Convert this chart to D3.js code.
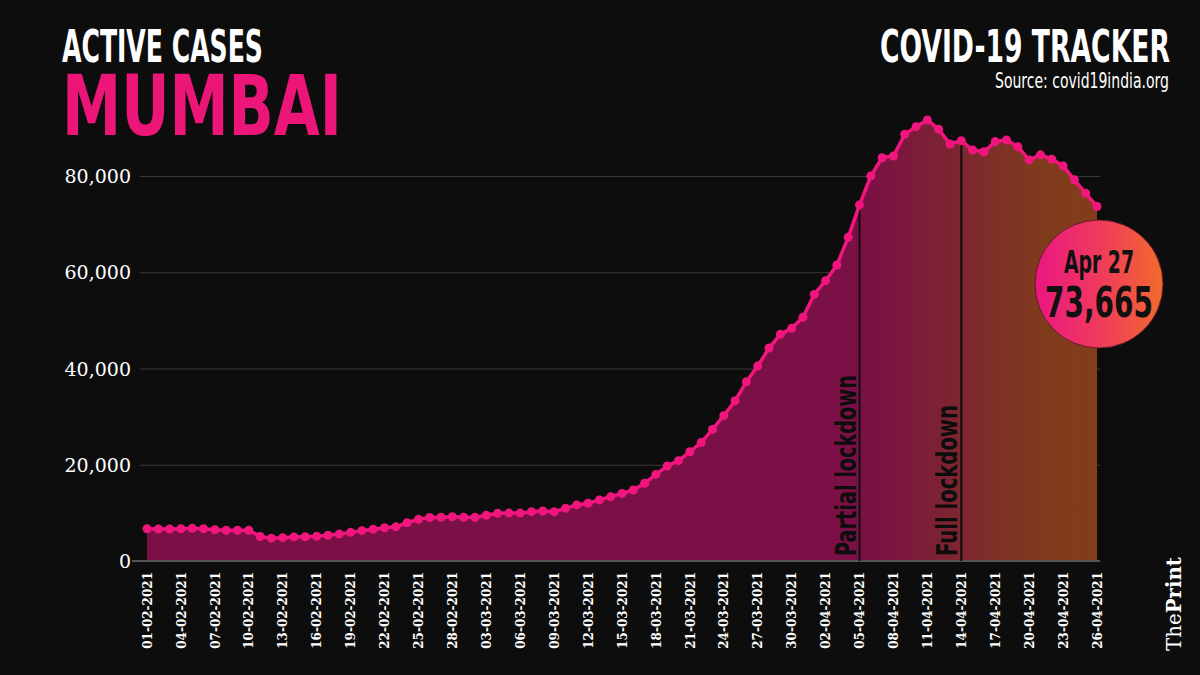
<!DOCTYPE html>
<html lang="en">
    <head>
        <meta charset="utf-8">
        <title>Active Cases Mumbai</title>
        <script src="https://cdnjs.cloudflare.com/ajax/libs/d3/7.8.5/d3.min.js" charset="utf-8"></script>
        <style>
        body {
          margin: 0;
          background: #0d0d0d;
        }
        svg {
          display: block;
        }
        .title {
          font-family: "Liberation Sans Narrow", "DejaVu Sans Condensed", "Roboto", sans-serif;
          font-weight: bold;
        }
        .y-axis text {
          font-family: "DejaVu Serif", serif;
          font-size: 19px;
          fill: #fff;
        }
        .x-axis text {
          font-family: "DejaVu Serif", serif;
          font-size: 12px;
          font-weight: bold;
          fill: #fff;
        }
        </style>
    </head>
    <body>
        <svg></svg>

        <script type="text/javascript">
          // active cases per day, 01-02-2021 .. 26-04-2021
          var dates = [
            "01-02-2021","02-02-2021","03-02-2021","04-02-2021","05-02-2021","06-02-2021","07-02-2021",
            "08-02-2021","09-02-2021","10-02-2021","11-02-2021","12-02-2021","13-02-2021","14-02-2021",
            "15-02-2021","16-02-2021","17-02-2021","18-02-2021","19-02-2021","20-02-2021","21-02-2021",
            "22-02-2021","23-02-2021","24-02-2021","25-02-2021","26-02-2021","27-02-2021","28-02-2021",
            "01-03-2021","02-03-2021","03-03-2021","04-03-2021","05-03-2021","06-03-2021","07-03-2021",
            "08-03-2021","09-03-2021","10-03-2021","11-03-2021","12-03-2021","13-03-2021","14-03-2021",
            "15-03-2021","16-03-2021","17-03-2021","18-03-2021","19-03-2021","20-03-2021","21-03-2021",
            "22-03-2021","23-03-2021","24-03-2021","25-03-2021","26-03-2021","27-03-2021","28-03-2021",
            "29-03-2021","30-03-2021","31-03-2021","01-04-2021","02-04-2021","03-04-2021","04-04-2021",
            "05-04-2021","06-04-2021","07-04-2021","08-04-2021","09-04-2021","10-04-2021","11-04-2021",
            "12-04-2021","13-04-2021","14-04-2021","15-04-2021","16-04-2021","17-04-2021","18-04-2021",
            "19-04-2021","20-04-2021","21-04-2021","22-04-2021","23-04-2021","24-04-2021","25-04-2021",
            "26-04-2021"
          ];

          var activeCases = [
            6700, 6650, 6650, 6700, 6800, 6700, 6500, 6400, 6400, 6400,
            5100, 4750, 4850, 5000, 5050, 5150, 5350, 5600, 5950, 6300,
            6600, 6900, 7100, 7950, 8650, 9050, 9100, 9200, 9100, 9100,
            9500, 9900, 9950, 9950, 10250, 10400, 10250, 10950, 11650, 12000,
            12700, 13350, 14050, 14750, 16150, 18000, 19750, 20850, 22700, 24600,
            27350, 30200, 33300, 37250, 40500, 44250, 47100, 48350, 50650, 55400,
            58250, 61500, 67250, 74000, 80000, 83800, 84150, 88650, 90250, 91650,
            89700, 86650, 87350, 85400, 85050, 87150, 87500, 86100, 83350, 84400,
            83500, 82100, 79200, 76400, 73665
          ];

          var xTickLabels = [
            "01-02-2021","04-02-2021","07-02-2021","10-02-2021","13-02-2021","16-02-2021",
            "19-02-2021","22-02-2021","25-02-2021","28-02-2021","03-03-2021","06-03-2021",
            "09-03-2021","12-03-2021","15-03-2021","18-03-2021","21-03-2021","24-03-2021",
            "27-03-2021","30-03-2021","02-04-2021","05-04-2021","08-04-2021","11-04-2021",
            "14-04-2021","17-04-2021","20-04-2021","23-04-2021","26-04-2021"
          ];

          var yTicks = [0, 20000, 40000, 60000, 80000];

          var lockdownDates = ["05-04-2021", "14-04-2021"];
          var lockdownLabels = ["Partial lockdown", "Full lockdown"];
          var lockdownLengths = [181, 151];

          var latestLabel = "Apr 27";

          var parseDate = d3.timeParse("%d-%m-%Y");
          var data = dates.map(function(d, i) {
              return { date: parseDate(d), value: activeCases[i] };
          });

          var width = 1200;
          var height = 675;
          var left = 147, right = 1097;
          var baseY = 561;

          var svg = d3.select("svg")
              .attr("width", width)
              .attr("height", height);

          svg.append("rect")
              .attr("width", width)
              .attr("height", height)
              .attr("fill", "#0d0d0d");

          // squeeze a text horizontally so it is exactly w pixels long
          // (the poster font is far narrower than anything installed)
          function fitText(sel, x, y, w, rotate) {
              sel.attr("x", 0).attr("y", 0);
              var k = w / sel.node().getComputedTextLength();
              sel.attr("transform", "translate(" + x + "," + y + ")" +
                  (rotate ? " rotate(" + rotate + ")" : "") + " scale(" + k + ",1)");
              return sel;
          }

          var xScale = d3.scaleTime()
              .domain(d3.extent(data, d => d.date))
              .range([left, right]);

          var yScale = d3.scaleLinear()
              .domain([0, 80000])
              .range([baseY, 176]);

          // gradients: area goes magenta -> brown, bubble pink -> orange
          var defs = svg.append("defs");
          var areaGrad = defs.append("linearGradient")
              .attr("id", "areaGrad")
              .attr("gradientUnits", "userSpaceOnUse")
              .attr("x1", left).attr("x2", right)
              .attr("y1", 0).attr("y2", 0);
          areaGrad.append("stop").attr("offset", 0).attr("stop-color", "#7a1045");
          areaGrad.append("stop").attr("offset", 0.76).attr("stop-color", "#7a1045");
          areaGrad.append("stop").attr("offset", 0.94).attr("stop-color", "#803a1d");
          areaGrad.append("stop").attr("offset", 1).attr("stop-color", "#813e1b");

          var bubbleGrad = defs.append("linearGradient")
              .attr("id", "bubbleGrad")
              .attr("x1", 0).attr("x2", 1)
              .attr("y1", 0).attr("y2", 0);
          bubbleGrad.append("stop").attr("offset", 0).attr("stop-color", "#ea1682");
          bubbleGrad.append("stop").attr("offset", 0.5).attr("stop-color", "#ef3a5c");
          bubbleGrad.append("stop").attr("offset", 1).attr("stop-color", "#f26a2c");

          // y grid + labels
          var yAxis = d3.axisLeft(yScale)
              .tickValues(yTicks)
              .tickSize(-(1100 - 140))
              .tickPadding(9)
              .tickFormat(d3.format(","));

          svg.append("g")
              .attr("class", "y-axis")
              .attr("transform", "translate(140,0)")
              .call(yAxis)
              .call(g => g.select(".domain").remove())
              .call(g => g.selectAll(".tick line")
                  .attr("stroke", "#3a3a3a")
                  .attr("stroke-width", 1))
              .call(g => g.selectAll(".tick text").attr("dy", "0.35em"));

          // area
          var area = d3.area()
              .x(d => xScale(d.date))
              .y0(baseY)
              .y1(d => yScale(d.value));

          svg.append("path")
              .datum(data)
              .attr("d", area)
              .attr("fill", "url(#areaGrad)");

          // zero baseline
          svg.append("line")
              .attr("x1", 132).attr("x2", 1100)
              .attr("y1", baseY).attr("y2", baseY)
              .attr("stroke", "#555")
              .attr("stroke-width", 2);

          // lockdown markers
          lockdownDates.forEach(function(ds, i) {
              var dt = parseDate(ds);
              var point = data.find(d => +d.date === +dt);
              var lx = xScale(dt);
              svg.append("line")
                  .attr("x1", lx).attr("x2", lx)
                  .attr("y1", yScale(point.value)).attr("y2", baseY)
                  .attr("stroke", "#0d0d0d")
                  .attr("stroke-width", 2);
              var t = svg.append("text")
                  .attr("class", "title")
                  .attr("font-size", 28)
                  .attr("fill", "#0d0d0d")
                  .text(lockdownLabels[i]);
              fitText(t, lx - 4, baseY - 5, lockdownLengths[i], -90);
          });

          // line + dots
          var line = d3.line()
              .x(d => xScale(d.date))
              .y(d => yScale(d.value));

          svg.append("path")
              .datum(data)
              .attr("d", line)
              .attr("fill", "none")
              .attr("stroke", "#f0167e")
              .attr("stroke-width", 3.5);

          svg.selectAll("circle.dot")
              .data(data)
              .enter()
              .append("circle")
                .attr("class", "dot")
                .attr("cx", d => xScale(d.date))
                .attr("cy", d => yScale(d.value))
                .attr("r", 4.5)
                .attr("fill", "#f0167e");

          // x axis labels (rotated)
          var xAxis = d3.axisBottom(xScale)
              .tickValues(xTickLabels.map(parseDate))
              .tickSize(0)
              .tickFormat(d3.timeFormat("%d-%m-%Y"));

          svg.append("g")
              .attr("class", "x-axis")
              .attr("transform", "translate(0," + baseY + ")")
              .call(xAxis)
              .call(g => g.select(".domain").remove())
              .call(g => g.selectAll(".tick text")
                  .attr("transform", "rotate(-90)")
                  .attr("text-anchor", "end")
                  .attr("x", -11)
                  .attr("y", 0)
                  .attr("dy", "0.35em"));

          // latest value bubble
          var last = data[data.length - 1];
          var bx = xScale(last.date) + 2;
          var by = 284;
          svg.append("circle")
              .attr("cx", bx)
              .attr("cy", by)
              .attr("r", 64)
              .attr("fill", "url(#bubbleGrad)")
              .attr("stroke", "#6a1a2a")
              .attr("stroke-width", 1);

          fitText(svg.append("text")
              .attr("class", "title")
              .attr("font-size", 32)
              .attr("fill", "#111")
              .text(latestLabel), bx - 35, 273, 70);

          fitText(svg.append("text")
              .attr("class", "title")
              .attr("font-size", 43)
              .attr("fill", "#111")
              .text(d3.format(",")(last.value)), bx - 54, 317, 108);

          // titles
          fitText(svg.append("text")
              .attr("class", "title")
              .attr("font-size", 45)
              .attr("fill", "#fff")
              .text("ACTIVE CASES"), 62, 62, 201);

          fitText(svg.append("text")
              .attr("class", "title")
              .attr("font-size", 84)
              .attr("fill", "#ec1679")
              .text("MUMBAI"), 62, 135, 280);

          fitText(svg.append("text")
              .attr("class", "title")
              .attr("font-size", 45)
              .attr("fill", "#fff")
              .text("COVID-19 TRACKER"), 880, 62, 290);

          fitText(svg.append("text")
              .attr("class", "title")
              .attr("font-size", 22)
              .style("font-weight", "normal")
              .attr("fill", "#fff")
              .text("Source: covid19india.org"), 995, 88, 174);

          // ThePrint mark
          var logo = svg.append("text")
              .attr("font-family", "'DejaVu Serif', serif")
              .attr("font-size", 21)
              .attr("fill", "#fff");
          logo.append("tspan").text("The");
          logo.append("tspan").attr("font-weight", "bold").text("Print");
          fitText(logo, 1181, 651, 94, -90);
        </script>
    </body>
</html>
